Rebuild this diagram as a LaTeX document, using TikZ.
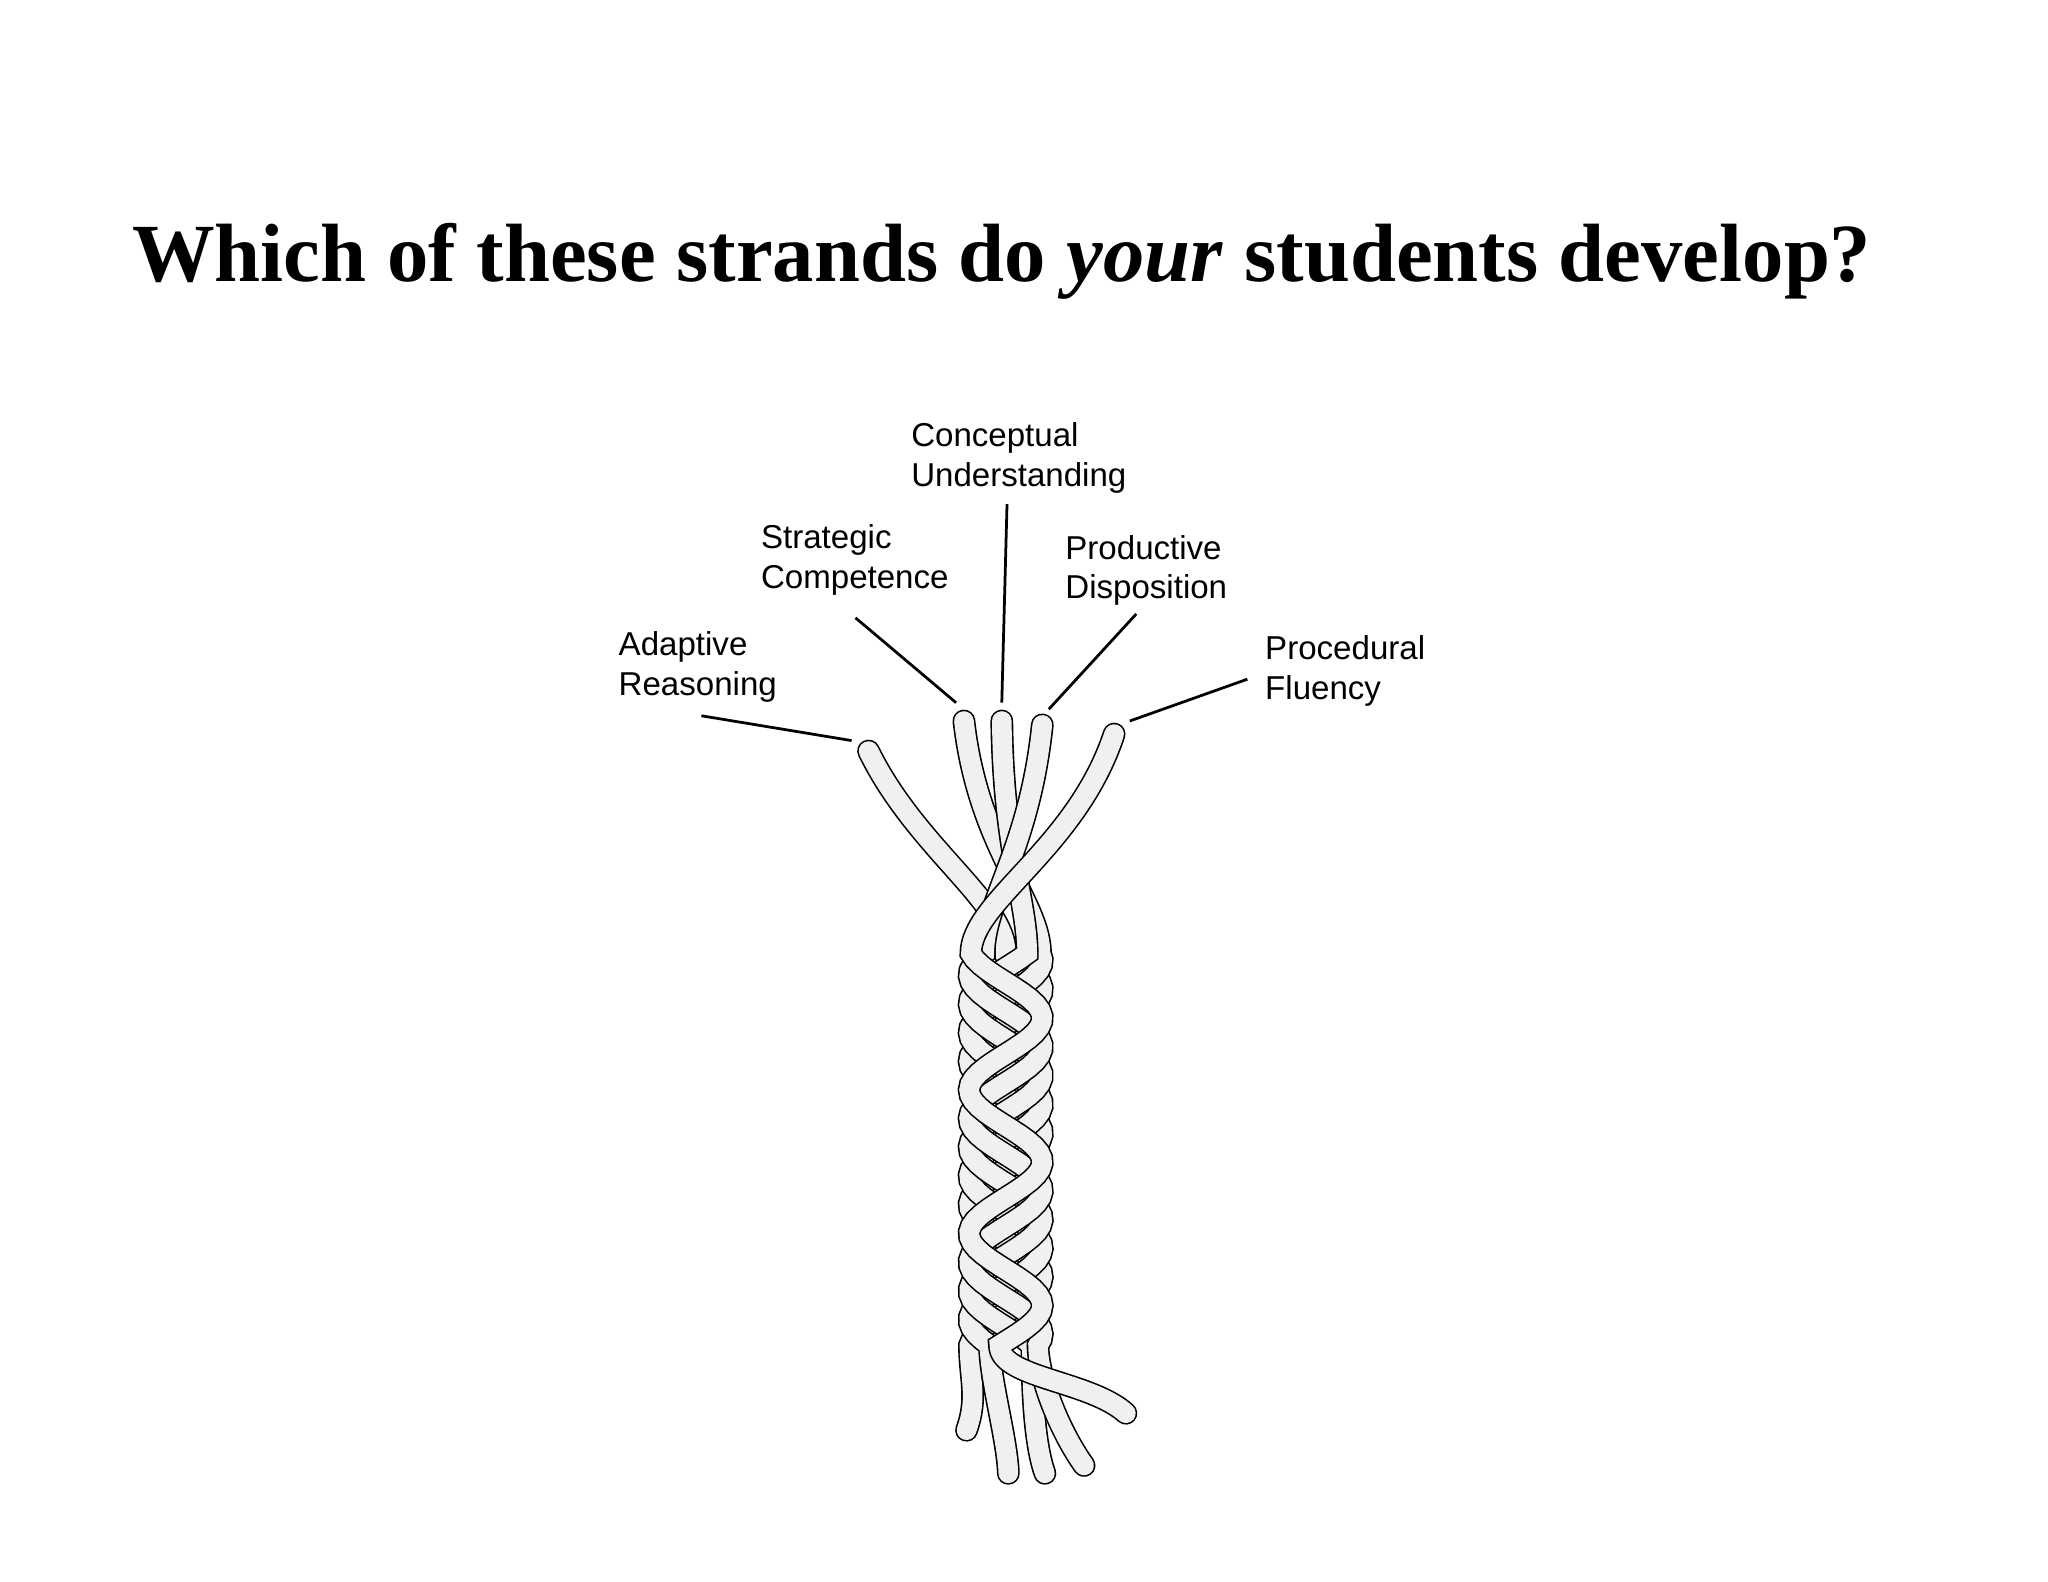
\documentclass[tikz,border=0pt]{standalone}
\usepackage{fontspec}
\setmainfont{Liberation Serif}
\newfontfamily\lblfont{Liberation Sans}
\begin{document}
\begin{tikzpicture}[x=0.01cm,y=0.01cm,
  lbl/.style={font=\lblfont\fontsize{7.2}{8.6}\selectfont,align=left,anchor=north west,inner sep=0pt},
  lead/.style={line width=0.6pt},
  strand/.style={draw=black,line width=0.35pt,double=gray!12,double distance=0.15cm,line cap=round}]
\useasboundingbox (0,0) rectangle (1568,-1211);
\node[font=\bfseries\fontsize{18}{20}\selectfont] (title) at (767,-200) {Which of these strands do \textit{your} students develop?};
% strands
\foreach \tx/\ty/\ph/\bx/\by [count=\i] in {665/575/0/740/1095, 738/552/72/772/1128, 767/552/144/800/1128, 798/555/216/830/1122, 853/562/288/862/1082}{
  \draw[strand] (\tx,-\ty) .. controls ({\tx+0.35*(770-\tx)},-650) and ({770+28*sin(\ph)},-690) .. ({770+28*sin(\ph)},-730)
    -- plot[domain=0:300,samples=70] ({770+28*sin(\x*3.2727+\ph)},{-730-\x})
    .. controls +(0,-25) and +({0.3*(770-\bx)},25) .. (\bx,-\by);
  \coordinate (e\i) at (\tx,-\ty);
}
% labels
\node[lbl] (ar) at (473,-483) {Adaptive\\Reasoning};
\node[lbl] (sc) at (582,-401) {Strategic\\Competence};
\node[lbl] (cu) at (697,-323) {Conceptual\\Understanding};
\node[lbl] (pd) at (815,-409) {Productive\\Disposition};
\node[lbl] (pf) at (968,-486) {Procedural\\Fluency};
\coordinate (a1) at (652,-567);
\coordinate (a2) at (732,-538);
\coordinate (a3) at (767,-538);
\coordinate (a4) at (803,-543);
\coordinate (a5) at (865,-552);
\draw[lead] (537,-548) -- (a1);
\draw[lead] (655,-473) -- (a2);
\draw[lead] (771,-386) -- (a3);
\draw[lead] (870,-470) -- (a4);
\draw[lead] (955,-520) -- (a5);
\end{tikzpicture}
\end{document}
